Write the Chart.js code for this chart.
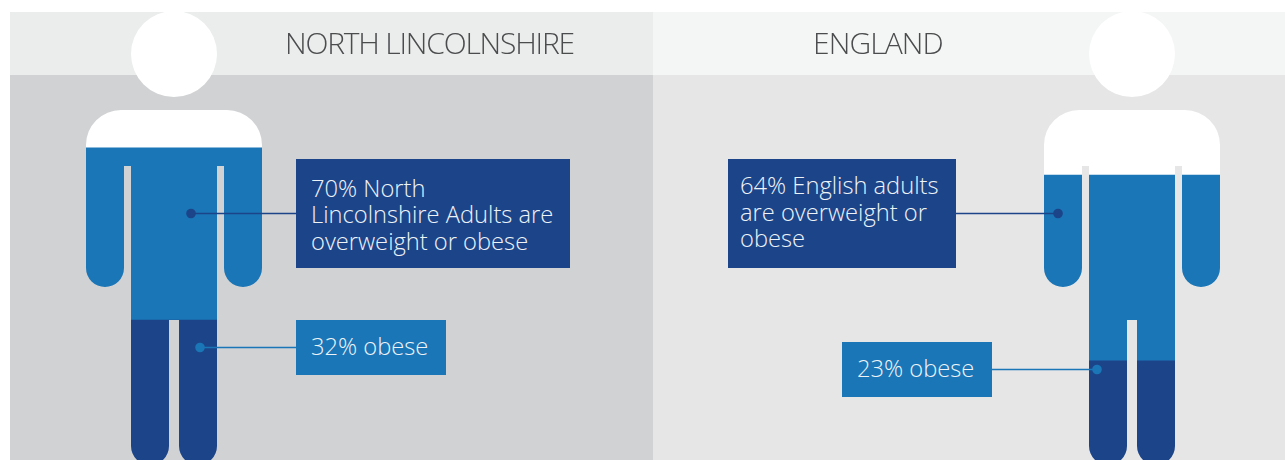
<!DOCTYPE html>
<html>
<head>
<meta charset="utf-8">
<script src="https://cdn.jsdelivr.net/npm/chart.js@4"></script>
<style>
  html,body{margin:0;padding:0;background:#fff;width:1285px;height:460px;overflow:hidden}
  #wrap{position:relative;width:1285px;height:460px;overflow:hidden;font-family:"Open Sans",sans-serif;font-weight:300}
  .panel,.band,.box,.line,.title{position:absolute}
  #c{position:absolute;left:0;top:0;z-index:1}
  .box{z-index:2}
  .line{white-space:nowrap;color:#eef3f8;font-size:23.7px;line-height:26px}
  .title{white-space:nowrap;color:#4b4c4d;font-size:30px;line-height:36px;top:25px}
</style>
</head>
<body>
<div id="wrap"><canvas id="c" width="1285" height="480"></canvas></div>
<script>
/* ---------- datos ---------- */
const areas      = ['NORTH LINCOLNSHIRE','ENGLAND'];
const overweight = [70,64];   // overweight or obese, %
const obese      = [32,23];   // obese, %
const noteTop    = [['70% North','Lincolnshire Adults are','overweight or obese'],
                    ['64% English adults','are overweight or','obese']];
const noteObese  = ['32% obese','23% obese'];

/* ---------- colores ---------- */
const WHITE='#ffffff', BLUE='#1a76b6', NAVY='#1c4489';

/* ---------- paneles y textos ---------- */
const wrap = document.getElementById('wrap');
const add = (cls,css,txt) => {
  const d=document.createElement('div');
  d.className=cls; d.style.cssText=css;
  if(txt) d.textContent=txt;
  wrap.appendChild(d);
};
const rect = (x,y,w,h,col) => `left:${x}px;top:${y}px;width:${w}px;height:${h}px;background:${col}`;

add('panel',rect(10,12,643,448,'#d1d2d4'));
add('panel',rect(653,12,632,448,'#e6e6e7'));
add('band', rect(10,12,643,63,'#ebeded'));
add('band', rect(653,12,632,63,'#f4f5f5'));
add('title','left:285px;z-index:2;letter-spacing:-1.2px',areas[0]);
add('title','left:813px;z-index:2;letter-spacing:-.9px',areas[1]);

add('box',rect(296,159,274,109,NAVY));
add('box',rect(728,159,228,109,NAVY));
add('box',rect(296,320,150,55,BLUE));
add('box',rect(842,342,150,55,BLUE));

const lineY = [[175,201,228],[172,199,225]];
const lineX = [311,740];
noteTop.forEach((lines,i)=>lines.forEach((t,k)=>
  add('line',`left:${lineX[i]}px;top:${lineY[i][k]}px;z-index:3`,t)));
add('line','left:311px;top:333px;z-index:3',noteObese[0]);
add('line','left:857px;top:355px;z-index:3',noteObese[1]);

/* ---------- silueta: todo relativo al centro de la barra ---------- */
const personPath = (ctx,cx,top) => {
  ctx.moveTo(cx+43,top+42);
  ctx.arc(cx,top+42,43,0,Math.PI*2);
  ctx.roundRect(cx-88,top+98,176,56,[35,35,0,0]);    // hombros
  ctx.roundRect(cx-88,top+150,38,125,[0,0,19,19]);   // brazo
  ctx.roundRect(cx+50,top+150,38,125,[0,0,19,19]);   // brazo
  ctx.rect(cx-43,top+150,86,158);                    // tronco
  ctx.roundRect(cx-43,top+300,38,153,[0,0,19,19]);   // pierna
  ctx.roundRect(cx+5,top+300,38,153,[0,0,19,19]);    // pierna
};

const personClip = {
  id:'personClip',
  beforeDatasetsDraw(chart){
    const {ctx,scales:{x,y}} = chart;
    ctx.save();
    ctx.beginPath();
    areas.forEach((a,i)=>personPath(ctx,x.getPixelForValue(i),y.getPixelForValue(100)));
    ctx.clip();
  },
  afterDatasetsDraw(chart){
    const {ctx,scales:{x}} = chart;
    ctx.restore();
    // lineas guia: [x del punto, y, x de la caja, color]
    const x0=x.getPixelForValue(0), x1=x.getPixelForValue(1);
    [[x0+17,213.5,296,NAVY],[x0+26,347.5,296,BLUE],
     [x1-74,213.5,956,NAVY],[x1-35,369.5,992,BLUE]].forEach(([dx,dy,bx,col])=>{
      ctx.strokeStyle=col; ctx.fillStyle=col; ctx.lineWidth=1.5;
      ctx.beginPath(); ctx.moveTo(dx,dy); ctx.lineTo(bx,dy); ctx.stroke();
      ctx.beginPath(); ctx.arc(dx,dy,4.8,0,Math.PI*2); ctx.fill();
    });
  }
};

/* ---------- grafico ---------- */
new Chart(document.getElementById('c'),{
  type:'bar',
  data:{
    labels:areas,
    datasets:[
      {label:'Obese',data:obese,backgroundColor:NAVY},
      {label:'Overweight',data:overweight.map((v,i)=>v-obese[i]),backgroundColor:BLUE},
      {label:'Rest',data:overweight.map(v=>100-v),backgroundColor:WHITE}
    ].map(d=>({...d,barThickness:176,clip:false,borderWidth:0}))
  },
  options:{
    responsive:false,animation:false,
    layout:{padding:{left:174,right:153,top:12,bottom:15}},
    plugins:{legend:{display:false},tooltip:{enabled:false}},
    scales:{
      x:{stacked:true,offset:false,display:false},
      y:{stacked:true,min:0,max:100,display:false}
    }
  },
  plugins:[personClip]
});
</script>
</body>
</html>
